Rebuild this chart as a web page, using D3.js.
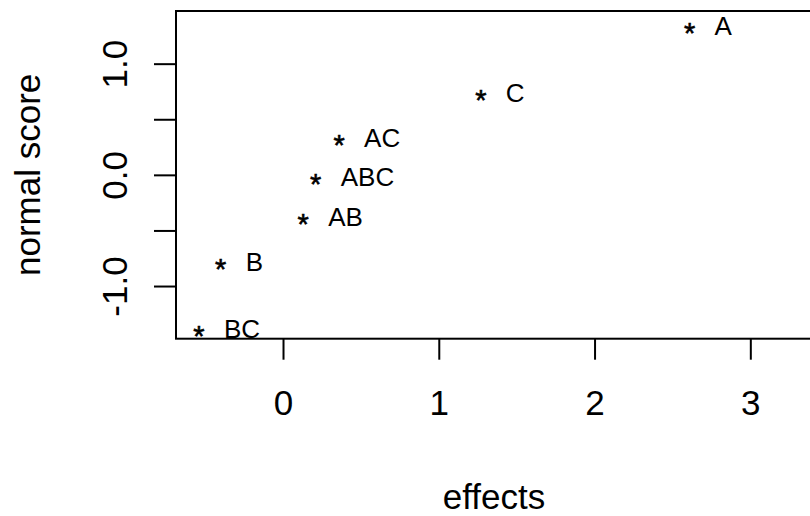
<!DOCTYPE html>
<html>
<head>
<meta charset="utf-8">
<script src="https://cdn.jsdelivr.net/npm/d3@7"></script>
<style>
  html, body { margin: 0; padding: 0; background: #fff; }
  svg { display: block; font-family: "Liberation Sans", Arial, sans-serif; }
</style>
</head>
<body>
<svg id="chart" width="810" height="516"></svg>
<script>
// ---- data ----
const effectNames = ["A", "C", "AC", "ABC", "AB", "B", "BC"];
const effectValues = [2.61, 1.27, 0.36, 0.21, 0.13, -0.40, -0.54];
const normalScores = [1.3645, 0.7573, 0.3529, 0.0, -0.3529, -0.7573, -1.3645];
const xTickValues = [0, 1, 2, 3];
const yTickValues = [-1.0, -0.5, 0.0, 0.5, 1.0];
const yTickLabels = ["-1.0", "", "0.0", "", "1.0"];
const xTitle = "effects";
const yTitle = "normal score";

(function () {
  // ---- layout ----
  const svg = d3.select("#chart");
  const pLeft = 176, pRight = 812, pTop = 11, pBottom = 338.7;

  const x = d3.scaleLinear().domain([-0.687, 3.396]).range([pLeft, pRight]);
  const y = d3.scaleLinear().domain([-1.4737, 1.4737]).range([pBottom, pTop]);

  const axisFont = 35;
  const pointFont = 26;
  const starFont = 29;

  // box
  svg.append("rect")
    .attr("x", pLeft).attr("y", pTop)
    .attr("width", pRight - pLeft).attr("height", pBottom - pTop)
    .attr("fill", "none").attr("stroke", "#000").attr("stroke-width", 2);

  // x axis
  const gx = svg.append("g")
    .attr("transform", `translate(0,${pBottom})`)
    .call(d3.axisBottom(x).tickValues(xTickValues).tickSize(21).tickFormat(d3.format("d")));
  gx.select(".domain").remove();
  gx.selectAll(".tick line").attr("stroke", "#000").attr("stroke-width", 2);
  gx.selectAll(".tick text")
    .attr("y", 76.5).attr("dy", 0)
    .attr("font-size", axisFont).attr("fill", "#000")
    .attr("font-family", "Liberation Sans, Arial, sans-serif");

  // y axis
  const gy = svg.append("g")
    .attr("transform", `translate(${pLeft},0)`)
    .call(d3.axisLeft(y).tickValues(yTickValues).tickSize(22)
      .tickFormat((d, i) => yTickLabels[i]));
  gy.select(".domain").remove();
  gy.selectAll(".tick line").attr("stroke", "#000").attr("stroke-width", 2);
  gy.selectAll(".tick text")
    .attr("x", 0).attr("y", 0).attr("dy", 0)
    .attr("transform", "translate(-49,0) rotate(-90)")
    .attr("text-anchor", "middle")
    .attr("font-size", axisFont).attr("fill", "#000")
    .attr("font-family", "Liberation Sans, Arial, sans-serif");

  // points (asterisks) and labels
  const pts = effectNames.map((n, i) => ({ name: n, ex: effectValues[i], ns: normalScores[i] }));

  svg.append("g").selectAll("text.pt")
    .data(pts).join("text")
    .attr("class", "pt")
    .attr("x", d => x(d.ex))
    .attr("y", d => y(d.ns) + 19.5)
    .attr("text-anchor", "middle")
    .attr("font-size", starFont)
    .attr("stroke", "#000").attr("stroke-width", 0.6)
    .attr("fill", "#000")
    .text("*");

  svg.append("g").selectAll("text.lab")
    .data(pts).join("text")
    .attr("class", "lab")
    .attr("x", d => x(d.ex) + 25)
    .attr("y", d => y(d.ns) + 11.5)
    .attr("text-anchor", "start")
    .attr("font-size", pointFont)
    .attr("fill", "#000")
    .text(d => d.name);

  // titles
  svg.append("text")
    .attr("x", (pLeft + pRight) / 2).attr("y", 509)
    .attr("text-anchor", "middle")
    .attr("font-size", axisFont).attr("fill", "#000")
    .text(xTitle);

  svg.append("text")
    .attr("transform", `translate(40,${(pTop + pBottom) / 2}) rotate(-90)`)
    .attr("text-anchor", "middle")
    .attr("font-size", axisFont).attr("fill", "#000")
    .text(yTitle);
})();
</script>
</body>
</html>
